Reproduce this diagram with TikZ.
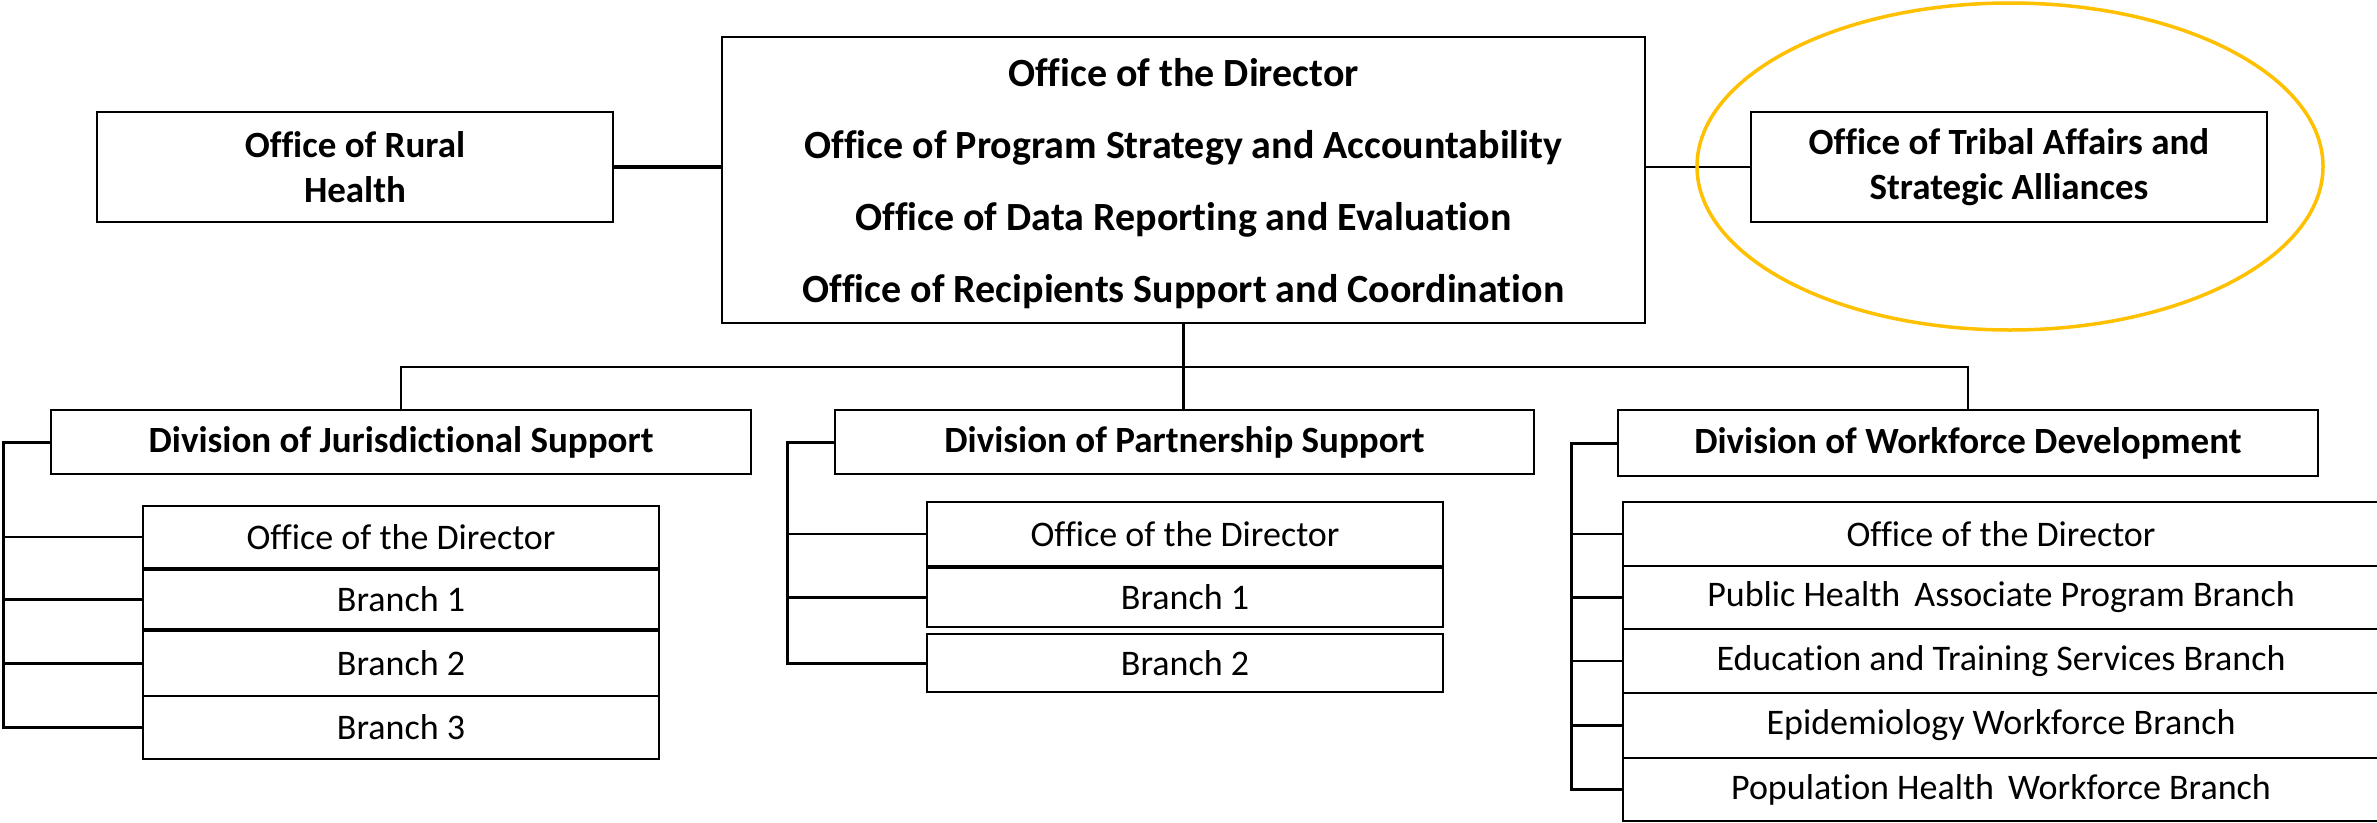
\documentclass[tikz,border=0pt]{standalone}
\usepackage{fontspec}
\setmainfont{Carlito}[Ligatures=NoCommon]
\usetikzlibrary{shapes.geometric}
\definecolor{gold}{HTML}{FFC000}
\begin{document}
\begin{tikzpicture}[x=1pt,y=-1pt,
  box/.style={draw, line width=2.5pt, inner sep=0pt, outer sep=0pt, align=center, fill=white},
  bigtxt/.style={font=\fontsize{40}{72}\selectfont\bfseries, align=center, inner sep=0pt},
  midtxt/.style={font=\fontsize{37}{45}\selectfont\bfseries},
  divtxt/.style={font=\fontsize{37}{45}\selectfont\bfseries},
  subtxt/.style={font=\fontsize{36}{43}\selectfont},
  link/.style={line width=2.5pt},
  brace/.style={line width=3pt, line join=miter},
]
\clip (0,0) rectangle (2377,822);
\fill[white] (0,0) rectangle (2377,822);

% top level
\node[box, minimum width=923pt, minimum height=286pt] (dir) at (1183.5,180) {};
\node[bigtxt] (dirtxt) at (1183.5,184)
  {Office of the Director\\Office of Program Strategy and Accountability\\Office of Data Reporting and Evaluation\\Office of Recipients Support and Coordination};
\node[box, midtxt, minimum width=516pt, minimum height=110pt] (rural) at (355,167) {Office of Rural\\Health};
\node[box, midtxt, minimum width=516pt, minimum height=110pt] (tribal) at (2009,167) {Office of Tribal Affairs and\\Strategic Alliances};

\draw[line width=4.5pt] (rural.east) -- (rural.east -| dir.west);
\draw[link] (dir.east |- tribal.west) -- (tribal.west);
\node[draw=gold, line width=3.5pt, ellipse, minimum width=626pt, minimum height=327pt, inner sep=0pt] (ring) at (2010,166.5) {};

% divisions
\node[box, divtxt, minimum width=700pt, minimum height=64pt] (jdiv) at (401,442) {Division of Jurisdictional Support};
\node[box, divtxt, minimum width=699pt, minimum height=64pt] (pdiv) at (1184.5,442) {Division of Partnership Support};
\node[box, divtxt, minimum width=700pt, minimum height=66pt] (wdiv) at (1968,443) {Division of Workforce Development};

\coordinate (bus) at (0,367);
\draw[link] (dir.south) -- (dir.south |- pdiv.north);
\draw[link] (jdiv.north) -- (jdiv.north |- bus) -- (wdiv.north |- bus) -- (wdiv.north);

% Jurisdictional sub-units
\node[box, subtxt, minimum width=516pt, minimum height=62pt] (jo) at (401,537) {Office of the Director};
\node[box, subtxt, minimum width=516pt, minimum height=59pt] (j1) at (401,599.5) {Branch 1};
\node[box, subtxt, minimum width=516pt, minimum height=65pt] (j2) at (401,663.5) {Branch 2};
\node[box, subtxt, minimum width=516pt, minimum height=63pt] (j3) at (401,727.5) {Branch 3};

% Partnership sub-units
\node[box, subtxt, minimum width=516pt, minimum height=64pt] (po) at (1185,534) {Office of the Director};
\node[box, subtxt, minimum width=516pt, minimum height=59pt] (p1) at (1185,597.5) {Branch 1};
\node[box, subtxt, minimum width=516pt, minimum height=58pt] (p2) at (1185,663) {Branch 2};

% Workforce sub-units
\node[box, subtxt, minimum width=756pt, minimum height=64pt] (wo) at (2001,534) {Office of the Director};
\node[box, subtxt, minimum width=756pt, minimum height=63pt] (w1) at (2001,597.5) {Public Health\hspace{6pt} Associate Program Branch};
\node[box, subtxt, minimum width=756pt, minimum height=64pt] (w2) at (2001,661) {Education and Training Services Branch};
\node[box, subtxt, minimum width=756pt, minimum height=65pt] (w3) at (2001,725.5) {Epidemiology Workforce Branch};
\node[box, subtxt, minimum width=756pt, minimum height=63pt] (w4) at (2001,789.5) {Population Health\hspace{6pt} Workforce Branch};

% brackets
\coordinate (jb) at (3,0);
\coordinate (pb) at (787,0);
\coordinate (wb) at (1571,0);
\draw[brace] (jdiv.west) -| (jb |- j3.west) -- (j3.west);
\foreach \n in {jo,j1,j2} \draw[link] (jb |- \n.west) -- (\n.west);
\draw[brace] (pdiv.west) -| (pb |- p2.west) -- (p2.west);
\foreach \n in {po,p1} \draw[link] (pb |- \n.west) -- (\n.west);
\draw[brace] (wdiv.west) -| (wb |- w4.west) -- (w4.west);
\foreach \n in {wo,w1,w2,w3} \draw[link] (wb |- \n.west) -- (\n.west);
\end{tikzpicture}
\end{document}
